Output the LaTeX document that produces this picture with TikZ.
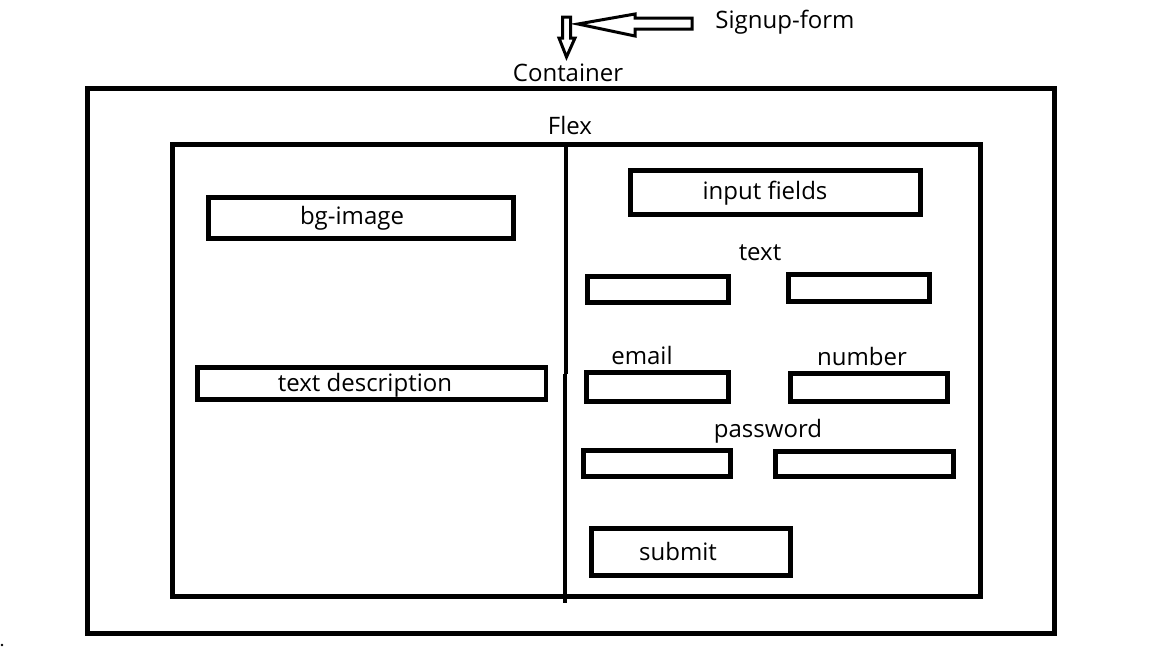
\documentclass[tikz,border=0pt]{standalone}
\usepackage{fontspec}
\setmainfont{Open Sans}
\begin{document}
\begin{tikzpicture}[x=1pt,y=-1pt,
  fbox/.style={draw, line width=4.5pt, inner sep=0pt},
  lbl/.style={inner sep=0pt, font=\fontsize{24}{28}\selectfont},
  arrowshape/.style={draw, line width=3pt, line join=miter}]
\useasboundingbox[fill=white] (0,0) rectangle (1152,648);
% containers
\node[fbox, line width=5pt, minimum width=966.5pt, minimum height=544.5pt] (outer) at (570.75,360.75) {};
\node[fbox, line width=5pt, minimum width=807.5pt, minimum height=452.5pt] (flex) at (576.25,370.25) {};
\coordinate (d1) at (566,145);
\coordinate (d2) at (566,374);
\coordinate (d3) at (565,374);
\coordinate (d4) at (565,603);
\draw[line width=4pt] (d1) -- (d2);
\draw[line width=4pt] (d3) -- (d4);
% labels on top
\node[lbl] (signup) at (785,22) {Signup-form};
\node[lbl] (container) at (568,73) {Container};
\node[lbl] (flexl) at (570,125) {Flex};
% hollow arrows
\draw[arrowshape] (578,24) -- (635,14) -- (635,18) -- (692,18) -- (692,29) -- (635,29) -- (635,36) -- cycle;
\draw[arrowshape] (562.5,17) -- (570.5,17) -- (570.5,38) -- (575,38) -- (566.5,57) -- (559,38) -- (562.5,38) -- cycle;
% left column
\node[fbox, minimum width=305pt, minimum height=41pt] (bgimg) at (361,218) {};
\node[lbl] (bgimgT) at (352,218.5) {bg-image};
\node[fbox, minimum width=348.5pt, minimum height=32pt] (desc) at (371.75,383.5) {};
\node[lbl] (descT) at (365,385) {text description};
% right column
\node[fbox, minimum width=290pt, minimum height=44pt] (input) at (775.5,192.5) {};
\node[lbl] (inputT) at (765,193.5) {input fields};
\node[lbl] (textL) at (760,252.5) {text};
\node[fbox, minimum width=141pt, minimum height=26pt] (t1) at (658,289.5) {};
\node[fbox, minimum width=141pt, minimum height=27pt] (t2) at (859,288) {};
\node[lbl] (emailL) at (642,355.5) {email};
\node[lbl] (numberL) at (862,356.5) {number};
\node[fbox, minimum width=142pt, minimum height=29pt] (e1) at (657.5,387) {};
\node[fbox, minimum width=157pt, minimum height=28pt] (n1) at (869,387.5) {};
\node[lbl] (passL) at (768,431.5) {password};
\node[fbox, minimum width=147pt, minimum height=26pt] (p1) at (657,463.5) {};
\node[fbox, minimum width=178pt, minimum height=25pt] (p2) at (864.5,464) {};
\node[fbox, minimum width=199pt, minimum height=47pt] (submit) at (691,552) {};
\node[lbl] (submitT) at (678,551.5) {submit};
% stray speck
\fill (2,645) circle (1.3pt);
\end{tikzpicture}
\end{document}
